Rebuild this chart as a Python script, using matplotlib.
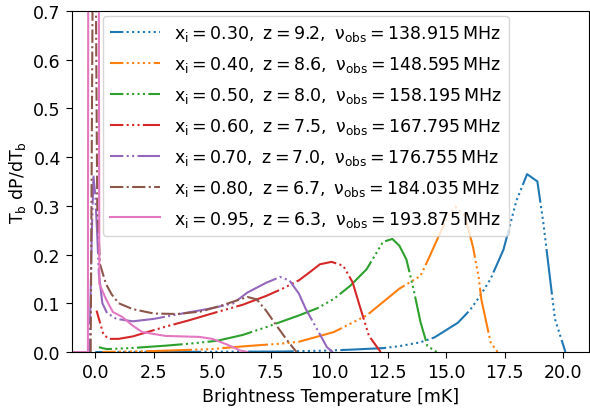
import numpy as np
import matplotlib
matplotlib.use('Agg')
from matplotlib import pyplot as plt

plt.rcParams['mathtext.default'] = 'regular'
plt.rcParams['font.size'] = 12.5
plt.rcParams['xtick.major.size'] = 4.5
plt.rcParams['ytick.major.size'] = 4.5

# ionised fraction, redshift, observed frequency for each curve
xi_vals = [0.30, 0.40, 0.50, 0.60, 0.70, 0.80, 0.95]
z_vals = [9.2, 8.6, 8.0, 7.5, 7.0, 6.7, 6.3]
nu_vals = [138.915, 148.595, 158.195, 167.795, 176.755, 184.035, 193.875]

# brightness temperature [mK] and Tb dP/dTb
tb_030 = [0.0, 5.0, 8.0, 10.0, 11.0, 12.3, 13.0, 13.9, 14.5, 15.0, 15.5, 16.0, 16.45, 16.9, 17.45, 18.0, 18.46, 18.9, 19.15, 19.65, 20.1]
pdf_030 = [0.0, 0.0005, 0.001, 0.003, 0.005, 0.008, 0.012, 0.02, 0.03, 0.045, 0.06, 0.085, 0.115, 0.15, 0.21, 0.31, 0.365, 0.35, 0.267, 0.068, 0.0]

tb_040 = [0.3, 2.5, 5.0, 5.9, 7.0, 7.9, 8.7, 10.2, 11.6, 13.0, 13.9, 14.3, 14.7, 15.1, 15.4, 15.8, 16.15, 16.4, 16.5, 16.9, 17.2]
pdf_040 = [0.0, 0.002, 0.006, 0.01, 0.014, 0.017, 0.021, 0.041, 0.075, 0.13, 0.156, 0.197, 0.24, 0.28, 0.298, 0.28, 0.215, 0.15, 0.109, 0.02, 0.0]

tb_050 = [0.15, 0.3, 0.5, 1.5, 3.0, 4.0, 5.2, 6.3, 7.3, 8.7, 9.5, 10.2, 10.9, 11.6, 12.3, 12.7, 13.0, 13.3, 13.6, 13.9, 14.2, 14.6]
pdf_050 = [0.01, 0.008, 0.006, 0.008, 0.013, 0.017, 0.023, 0.035, 0.051, 0.075, 0.09, 0.109, 0.136, 0.17, 0.226, 0.232, 0.218, 0.19, 0.13, 0.062, 0.012, 0.0]

tb_060 = [0.05, 0.2, 0.35, 0.6, 1.0, 1.6, 3.0, 4.0, 5.2, 6.3, 7.3, 8.0, 8.7, 9.2, 9.6, 10.1, 10.6, 11.0, 11.3, 11.7, 12.2]
pdf_060 = [0.085, 0.06, 0.035, 0.027, 0.027, 0.032, 0.052, 0.065, 0.082, 0.097, 0.115, 0.13, 0.147, 0.165, 0.18, 0.185, 0.177, 0.143, 0.095, 0.033, 0.0]

tb_070 = [-0.25, -0.15, -0.08, 0.0, 0.08, 0.15, 0.3, 0.5, 0.9, 1.6, 2.5, 3.6, 5.0, 5.9, 6.5, 7.3, 7.9, 8.3, 8.7, 9.0, 9.5, 9.9, 10.15]
pdf_070 = [0.0, 0.25, 0.36, 0.32, 0.24, 0.16, 0.1, 0.08, 0.068, 0.063, 0.068, 0.078, 0.09, 0.1, 0.122, 0.142, 0.154, 0.147, 0.12, 0.088, 0.045, 0.01, 0.0]

tb_080 = [-0.2, -0.1, 0.0, 0.08, 0.2, 0.45, 0.7, 1.0, 1.6, 2.5, 3.5, 4.5, 5.5, 6.0, 6.5, 6.9, 7.3, 7.75, 8.2, 8.6]
pdf_080 = [0.0, 0.9, 0.9, 0.3, 0.18, 0.14, 0.118, 0.1, 0.088, 0.079, 0.078, 0.083, 0.097, 0.105, 0.113, 0.108, 0.085, 0.054, 0.024, 0.0]

tb_095 = [-1.0, -0.32, -0.28, 0.0, 0.12, 0.17, 0.45, 0.75, 1.15, 1.6, 2.0, 3.0, 4.45, 5.0, 5.6, 6.2, 6.5]
pdf_095 = [0.0, 0.0, 2.0, 3.0, 1.5, 0.14, 0.109, 0.082, 0.072, 0.054, 0.041, 0.033, 0.031, 0.027, 0.016, 0.003, 0.0]

tbList = [tb_030, tb_040, tb_050, tb_060, tb_070, tb_080, tb_095]
pdfList = [pdf_030, pdf_040, pdf_050, pdf_060, pdf_070, pdf_080, pdf_095]


#long dash followed by n dots, shifted so the legend starts on a short dash
def dashDots(n, L=22):
    seq = [L, 1.6] + [1, 1.6] * n
    return (L - 6.4, seq)

styles = [dashDots(8), dashDots(5), dashDots(4), dashDots(3), dashDots(2), '-.', '-']

fig = plt.figure(figsize=(5.9, 4.1), dpi=100)
ax = fig.add_axes([0.122, 0.139, 0.876, 0.832])

for i in range(len(tbList)):
    label = r'$x_{\rm i} = %.2f,\ z = %.1f,\ \nu_{\rm obs} = %.3f\,{\rm MHz}$' % (xi_vals[i], z_vals[i], nu_vals[i])
    ax.plot(tbList[i], pdfList[i], color='C%d' % i, linestyle=styles[i], lw=1.5, label=label)

ax.set_xlim(-1.0, 21.1)
ax.set_ylim(0, 0.7)
ax.set_xlabel('Brightness Temperature [mK]')
ax.set_ylabel(r'$T_{\rm b}\ dP/dT_{\rm b}$')
ax.legend(loc='upper left', bbox_to_anchor=(0.06, 0.985), borderaxespad=0,
          handlelength=2.9, labelspacing=0.63)

fig.savefig('out.png', dpi=100)
